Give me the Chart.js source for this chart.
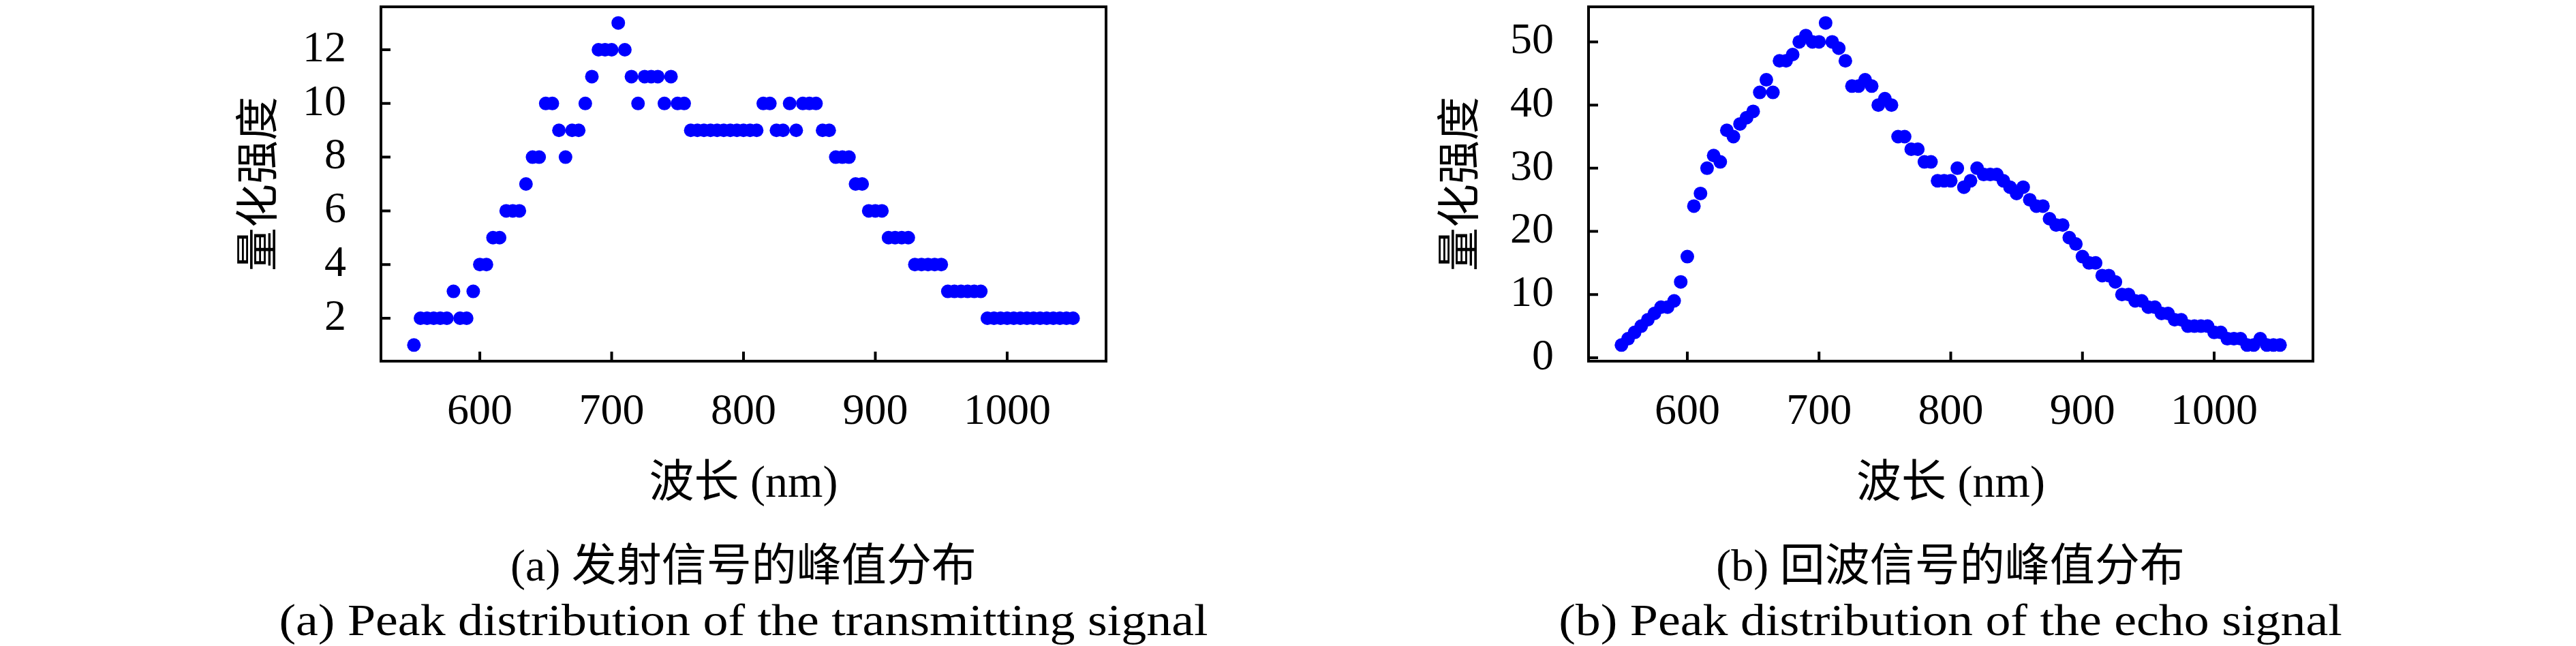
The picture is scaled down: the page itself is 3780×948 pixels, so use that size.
<!DOCTYPE html>
<html>
<head>
<meta charset="utf-8">
<script src="https://cdn.jsdelivr.net/npm/chart.js@4.4.1/dist/chart.umd.min.js"></script>
<style>
  html, body { margin: 0; padding: 0; background: #fff; overflow: hidden; }
  #page { position: relative; width: 3780px; height: 948px; background: #fff; }
  #page canvas { position: absolute; top: 0; }
  .cap {
    position: absolute; transform: translate(-50%, -50%); white-space: nowrap;
    font-family: "Liberation Serif", "Noto Sans CJK SC", serif; font-size: 66px;
    line-height: 1; color: #000;
  }
  .cap.en { transform: translate(-50%, -50%) scaleX(1.12); }
</style>
</head>
<body>
<div id="page">
  <canvas id="chart-tx" width="1890" height="948" style="left:0"></canvas>
  <canvas id="chart-echo" width="1890" height="948" style="left:1890px"></canvas>
  <div class="cap" style="left:1091px;top:830px">(a) 发射信号的峰值分布</div>
  <div class="cap en" style="left:1091px;top:910px">(a) Peak distribution of the transmitting signal</div>
  <div class="cap" style="left:2862px;top:830px">(b) 回波信号的峰值分布</div>
  <div class="cap en" style="left:2862px;top:910px">(b) Peak distribution of the echo signal</div>
</div>
<script>
// wavelengths (nm), one sample every 5 nm
const WAVELENGTHS = [
  550, 555, 560, 565, 570, 575, 580, 585, 590, 595,
  600, 605, 610, 615, 620, 625, 630, 635, 640, 645,
  650, 655, 660, 665, 670, 675, 680, 685, 690, 695,
  700, 705, 710, 715, 720, 725, 730, 735, 740, 745,
  750, 755, 760, 765, 770, 775, 780, 785, 790, 795,
  800, 805, 810, 815, 820, 825, 830, 835, 840, 845,
  850, 855, 860, 865, 870, 875, 880, 885, 890, 895,
  900, 905, 910, 915, 920, 925, 930, 935, 940, 945,
  950, 955, 960, 965, 970, 975, 980, 985, 990, 995,
  1000, 1005, 1010, 1015, 1020, 1025, 1030, 1035, 1040, 1045, 1050
];

// (a) transmitted signal, quantized peak
const TX_PEAKS = [
  1, 2, 2, 2, 2, 2, 3, 2, 2, 3,
  4, 4, 5, 5, 6, 6, 6, 7, 8, 8,
  10, 10, 9, 8, 9, 9, 10, 11, 12, 12,
  12, 13, 12, 11, 10, 11, 11, 11, 10, 11,
  10, 10, 9, 9, 9, 9, 9, 9, 9, 9,
  9, 9, 9, 10, 10, 9, 9, 10, 9, 10,
  10, 10, 9, 9, 8, 8, 8, 7, 7, 6,
  6, 6, 5, 5, 5, 5, 4, 4, 4, 4,
  4, 3, 3, 3, 3, 3, 3, 2, 2, 2,
  2, 2, 2, 2, 2, 2, 2, 2, 2, 2, 2
];

// (b) echo signal, quantized peak
const ECHO_PEAKS = [
  2, 3, 4, 5, 6, 7, 8, 8, 9, 12,
  16, 24, 26, 30, 32, 31, 36, 35, 37, 38,
  39, 42, 44, 42, 47, 47, 48, 50, 51, 50,
  50, 53, 50, 49, 47, 43, 43, 44, 43, 40,
  41, 40, 35, 35, 33, 33, 31, 31, 28, 28,
  28, 30, 27, 28, 30, 29, 29, 29, 28, 27,
  26, 27, 25, 24, 24, 22, 21, 21, 19, 18,
  16, 15, 15, 13, 13, 12, 10, 10, 9, 9,
  8, 8, 7, 7, 6, 6, 5, 5, 5, 5,
  4, 4, 3, 3, 3, 2, 2, 3, 2, 2, 2
];

const X_TICKS = [600, 700, 800, 900, 1000];
const TX_Y_TICKS = [2, 4, 6, 8, 10, 12];
const ECHO_Y_TICKS = [0, 10, 20, 30, 40, 50];
const X_TITLE = '波长 (nm)';
const Y_TITLE = '量化强度';

const SERIF = '"Liberation Serif", "Noto Sans CJK SC", serif';
const CJK = '"Noto Sans CJK SC", sans-serif';

// closed black frame + inward tick marks
const frameTicks = {
  id: 'frameTicks',
  afterDatasetsDraw(chart) {
    const { ctx, chartArea: a, scales: { x, y } } = chart;
    ctx.save();
    ctx.strokeStyle = '#000';
    ctx.lineWidth = 4;
    ctx.strokeRect(a.left, a.top, a.right - a.left, a.bottom - a.top);
    ctx.beginPath();
    x.ticks.forEach(t => {
      const px = x.getPixelForValue(t.value);
      ctx.moveTo(px, a.bottom); ctx.lineTo(px, a.bottom - 14);
    });
    y.ticks.forEach(t => {
      const py = y.getPixelForValue(t.value);
      ctx.moveTo(a.left, py); ctx.lineTo(a.left + 14, py);
    });
    ctx.stroke();
    ctx.restore();
  }
};

function makeChart(id, values, yMin, yMax, yTicks, padLeft, yWidth, padRight) {
  const xHeight = 221.4;
  return new Chart(document.getElementById(id), {
    type: 'scatter',
    data: {
      datasets: [{
        data: WAVELENGTHS.map((w, i) => ({ x: w, y: values[i] })),
        backgroundColor: '#0000ff', borderWidth: 0,
        pointRadius: 10, pointHoverRadius: 10
      }]
    },
    options: {
      responsive: false, animation: false, devicePixelRatio: 1,
      layout: { padding: { left: padLeft, top: 2, right: padRight, bottom: 948 - 530 - xHeight } },
      plugins: { legend: { display: false }, tooltip: { enabled: false } },
      scales: {
        x: {
          type: 'linear', position: 'bottom', min: 525, max: 1075,
          afterBuildTicks: s => { s.ticks = X_TICKS.map(v => ({ value: v })); },
          afterFit: s => { s.height = xHeight; s.paddingLeft = 0; s.paddingRight = 0; },
          grid: { display: false, drawTicks: false }, border: { display: false },
          ticks: { padding: 37, color: '#000', autoSkip: false, maxRotation: 0,
                   font: { family: SERIF, size: 64 }, callback: v => String(v) },
          title: { display: true, text: X_TITLE, color: '#000', padding: 0,
                   font: { family: SERIF, size: 66 } }
        },
        y: {
          type: 'linear', position: 'left', min: yMin, max: yMax,
          afterBuildTicks: s => { s.ticks = yTicks.map(v => ({ value: v })); },
          afterFit: s => { s.width = yWidth; s.paddingTop = 0; s.paddingBottom = 0; },
          grid: { display: false, drawTicks: false }, border: { display: false },
          ticks: { padding: 51, color: '#000', autoSkip: false,
                   font: { family: SERIF, size: 64 }, callback: v => String(v) },
          title: { display: true, text: Y_TITLE, color: '#000', padding: 0,
                   font: { family: CJK, size: 64 } }
        }
      }
    },
    plugins: [frameTicks]
  });
}

makeChart('chart-tx', TX_PEAKS, 0.4, 13.6, TX_Y_TICKS, 337.6, 221.4, 1890 - 1623);
makeChart('chart-echo', ECHO_PEAKS, -0.55, 55.55, ECHO_Y_TICKS, 210.6, 230.4, 1890 - 1504);
</script>
</body>
</html>
